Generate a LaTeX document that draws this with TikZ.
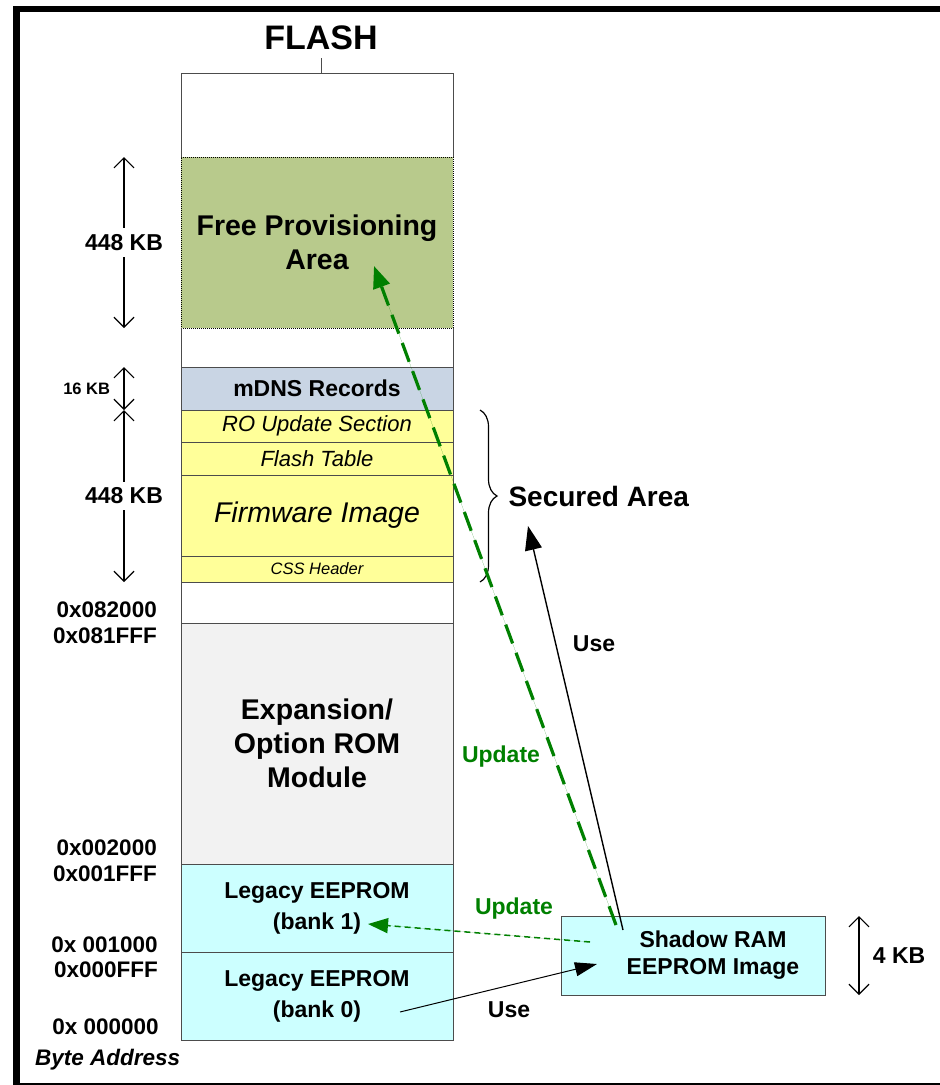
\documentclass[tikz,border=0pt]{standalone}
\usepackage{fontspec}
\setmainfont{Liberation Sans}
\usetikzlibrary{positioning, arrows.meta, decorations.pathreplacing}

\definecolor{provgreen}{HTML}{B8CA8C}
\definecolor{mdnsblue}{HTML}{C9D5E4}
\definecolor{secyellow}{HTML}{FFFF99}
\definecolor{romgray}{HTML}{F2F2F2}
\definecolor{eecyan}{HTML}{CCFFFF}
\definecolor{updgreen}{HTML}{008000}

\tikzstyle{region} = [draw=black!70, line width=1pt, rectangle, inner sep=0pt, outer sep=0pt, minimum width=272pt, align=center]
\tikzstyle{colline} = [draw=black!70, line width=1pt]
\tikzstyle{boldtxt} = [font=\fontsize{23}{31}\selectfont\bfseries]
\tikzstyle{bigtxt} = [font=\fontsize{28.5}{34}\selectfont\bfseries]
\tikzstyle{italtxt} = [font=\fontsize{22}{25}\selectfont\itshape]
\tikzstyle{addr} = [font=\fontsize{22.5}{25}\selectfont\bfseries, anchor=east, inner sep=0pt]
\tikzstyle{updtxt} = [font=\fontsize{23}{25}\selectfont\bfseries, text=updgreen]
\tikzstyle{sizearrow} = [{Straight Barb[length=10pt,width=20pt]}-{Straight Barb[length=10pt,width=20pt]}, line width=1.2pt]
\tikzstyle{usearrow} = [-{Triangle[length=24pt,width=17pt]}, line width=1.4pt]
\tikzstyle{usethin} = [-{Triangle[length=22pt,width=14pt]}, line width=1pt]
\tikzstyle{updarrow} = [-{Triangle[length=22pt,width=17pt]}, draw=updgreen, fill=updgreen, line width=3.2pt, dash pattern=on 20pt off 10pt]
\tikzstyle{updthin} = [-{Triangle[length=20pt,width=15pt]}, draw=updgreen, fill=updgreen, line width=1.5pt, dash pattern=on 6pt off 4pt]

\begin{document}
\begin{tikzpicture}[x=1pt, y=-1pt]
  \clip (0,0) rectangle (940,1085);
  \fill[white] (0,0) rectangle (940,1085);
  \draw[line width=6.5pt] (16.5,9) rectangle (960,1086);

  \node[font=\fontsize{34}{36}\selectfont\bfseries] (title) at (321,38) {FLASH};

  % flash column
  \node[region, draw=none, minimum height=84pt, anchor=north] (topGap) at (317,73) {};
  \node[region, below=0pt of topGap, minimum height=171pt, fill=provgreen, draw=black, densely dotted, bigtxt] (freeArea) {Free Provisioning\\Area};
  \node[region, draw=none, below=0pt of freeArea, minimum height=39pt] (gapA) {};
  \node[region, below=0pt of gapA, minimum height=43pt, fill=mdnsblue, boldtxt] (mdns) {mDNS Records};
  \node[region, below=0pt of mdns, minimum height=32pt, fill=secyellow, italtxt] (roUpdate) {RO Update Section};
  \node[region, below=0pt of roUpdate, minimum height=33pt, fill=secyellow, italtxt] (flashTable) {Flash Table};
  \node[region, below=0pt of flashTable, minimum height=81pt, fill=secyellow, font=\fontsize{28.5}{32}\selectfont\itshape] (fwImage) {Firmware Image};
  \node[region, below=0pt of fwImage, minimum height=26pt, fill=secyellow, font=\fontsize{16.5}{18}\selectfont\itshape] (cssHeader) {CSS Header};
  \node[region, below=0pt of cssHeader, minimum height=41pt] (gapB) {};
  \node[region, below=0pt of gapB, minimum height=241pt, fill=romgray, bigtxt] (expRom) {Expansion/\\Option ROM\\Module};
  \node[region, below=0pt of expRom, minimum height=88pt, fill=eecyan, boldtxt] (eeBank1) {Legacy EEPROM\\(bank 1)};
  \node[region, below=0pt of eeBank1, minimum height=88pt, fill=eecyan, boldtxt] (eeBank0) {Legacy EEPROM\\(bank 0)};
  \draw[colline] (topGap.south west) |- (topGap.north east) -- (topGap.south east);
  \draw[colline] (gapA.north west) -- (gapA.south west) (gapA.north east) -- (gapA.south east);
  \draw[colline] ([xshift=4pt]topGap.north) -- ++(0,-15);

  % sizes
  \draw[sizearrow] ([xshift=-57pt]freeArea.north west) -- ([xshift=-57pt]freeArea.south west) node[midway, fill=white, boldtxt, inner xsep=1pt, inner ysep=6pt] {448 KB};
  \draw[sizearrow] ([xshift=-57pt]mdns.north west) -- ([xshift=-57pt]mdns.south west) node[midway, left=10pt, font=\fontsize{16.5}{18}\selectfont\bfseries] {16 KB};
  \draw[sizearrow] ([xshift=-57pt]roUpdate.north west) -- ([xshift=-57pt]cssHeader.south west) node[midway, fill=white, boldtxt, inner xsep=1pt, inner ysep=6pt] {448 KB};

  % addresses
  \node[addr] (a082000) at (157,610) {0x082000};
  \node[addr] (a081FFF) at (157,636) {0x081FFF};
  \node[addr] (a002000) at (157,848) {0x002000};
  \node[addr] (a001FFF) at (157,874) {0x001FFF};
  \node[addr] (a001000) at (158,945) {0x 001000};
  \node[addr] (a000FFF) at (158,970) {0x000FFF};
  \node[addr] (a000000) at (159,1027) {0x 000000};
  \node[font=\fontsize{22.5}{25}\selectfont\bfseries\itshape, anchor=west, inner sep=0pt] (byteAddr) at (35,1060) {Byte Address};

  % secured area
  \draw[decorate, decoration={brace, amplitude=17pt}, line width=1.2pt] ([xshift=27pt]roUpdate.north east) -- ([xshift=27pt]cssHeader.south east);
  \node[font=\fontsize{28}{30}\selectfont\bfseries, anchor=west] (secured) at (505,496) {Secured Area};

  % shadow ram
  \node[region, minimum width=264pt, minimum height=79pt, fill=eecyan, label={[font=\fontsize{23}{27}\selectfont\bfseries, align=center, xshift=20pt]center:{Shadow RAM\\EEPROM Image}}] (shadowRam) at (693,955.5) {};
  \draw[sizearrow] ([xshift=34pt]shadowRam.north east) -- ([xshift=34pt]shadowRam.south east) node[midway, right=10pt, boldtxt] {4 KB};

  \coordinate (ramUse) at (623,930);
  \coordinate (ramUpd) at (616,925);
  \coordinate (ramUpdB) at (590,942);
  \coordinate (ramUseB) at (597,964);
  \coordinate (bank0Src) at (400,1012);
  \coordinate (bank1Dst) at (368,924);
  \coordinate (provDst) at (374,266);
  \coordinate (secDst) at (528,526);

  \draw[updarrow] (ramUpd) -- (provDst);
  \draw[usearrow] (ramUse) -- (secDst);
  \draw[updthin] (ramUpdB) -- (bank1Dst);
  \draw[usethin] (bank0Src) -- (ramUseB);

  \node[boldtxt] (useSec) at (594,644) {Use};
  \node[updtxt] (updProv) at (501,757) {Update};
  \node[updtxt] (updBank) at (514,909) {Update};
  \node[boldtxt] (useBank) at (509,1010) {Use};
\end{tikzpicture}
\end{document}
